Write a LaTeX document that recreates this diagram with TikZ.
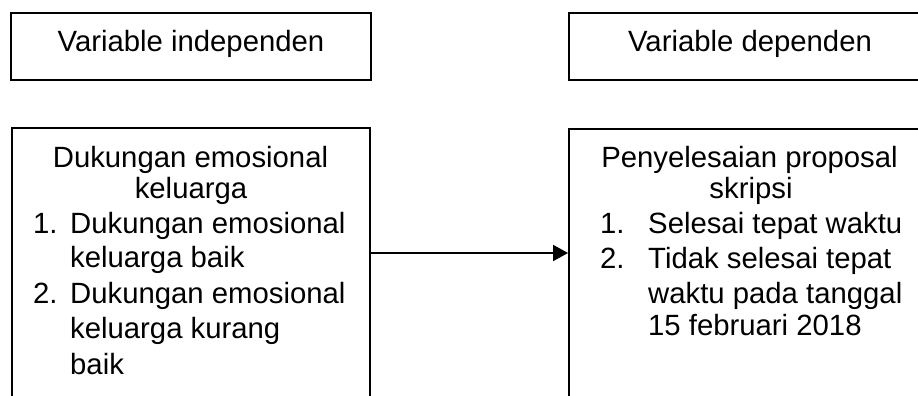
\documentclass[tikz,border=0pt]{standalone}
\usepackage{fontspec}
\setmainfont{Liberation Sans}
\usetikzlibrary{arrows.meta}

\tikzset{
  varbox/.style={draw, rectangle, line width=1.9pt, minimum width=360pt, inner sep=0pt},
  txt/.style={inner sep=0pt, font=\fontsize{29.3}{35.2}\selectfont}
}

\begin{document}
\begin{tikzpicture}[x=1pt, y=1pt]
    \useasboundingbox (0,0) rectangle (918,-396);
    \clip (0,0) rectangle (918,-396);

    % kotak judul
    \node[varbox, minimum height=67pt] (indep) at (191,-46.5) {};
    \node[varbox, minimum height=67pt] (dep) at (749,-46.5) {};
    \node[txt, anchor=base] (indeplbl) at (191,-52) {Variable independen};
    \node[txt, anchor=base] (deplbl) at (750,-52) {Variable dependen};

    % kotak isi
    \node[varbox, minimum width=358pt, minimum height=322pt] (dukungan) at (191,-289) {};
    \node[varbox, minimum height=322pt] (proposal) at (749,-290) {};

    % isi kiri
    \node[txt, anchor=base] (dkhead1) at (190.5,-167) {Dukungan emosional};
    \node[txt, anchor=base] (dkhead2) at (191,-198) {keluarga};
    \node[txt, anchor=base west] (dknum1) at (33,-233) {1.};
    \node[txt, anchor=base west] (dkitem1a) at (70,-233) {Dukungan emosional};
    \node[txt, anchor=base west] (dkitem1b) at (70,-267) {keluarga baik};
    \node[txt, anchor=base west] (dknum2) at (33,-303) {2.};
    \node[txt, anchor=base west] (dkitem2a) at (70,-303) {Dukungan emosional};
    \node[txt, anchor=base west] (dkitem2b) at (70,-338) {keluarga kurang};
    \node[txt, anchor=base west] (dkitem2c) at (70,-374) {baik};

    % isi kanan
    \node[txt, anchor=base] (pphead1) at (749.5,-167) {Penyelesaian proposal};
    \node[txt, anchor=base] (pphead2) at (751,-198) {skripsi};
    \node[txt, anchor=base west] (ppnum1) at (600,-233) {1.};
    \node[txt, anchor=base west] (ppitem1) at (648,-233) {Selesai tepat waktu};
    \node[txt, anchor=base west] (ppnum2) at (600,-268) {2.};
    \node[txt, anchor=base west] (ppitem2a) at (648,-268) {Tidak selesai tepat};
    \node[txt, anchor=base west] (ppitem2b) at (648,-303) {waktu pada tanggal};
    \node[txt, anchor=base west] (ppitem2c) at (648,-335) {15 februari 2018};

    % panah
    \draw[line width=1.9pt, -{Triangle[length=15pt, width=16pt]}]
        ([yshift=36pt]dukungan.east) -- ([yshift=37pt]proposal.west);
\end{tikzpicture}
\end{document}
